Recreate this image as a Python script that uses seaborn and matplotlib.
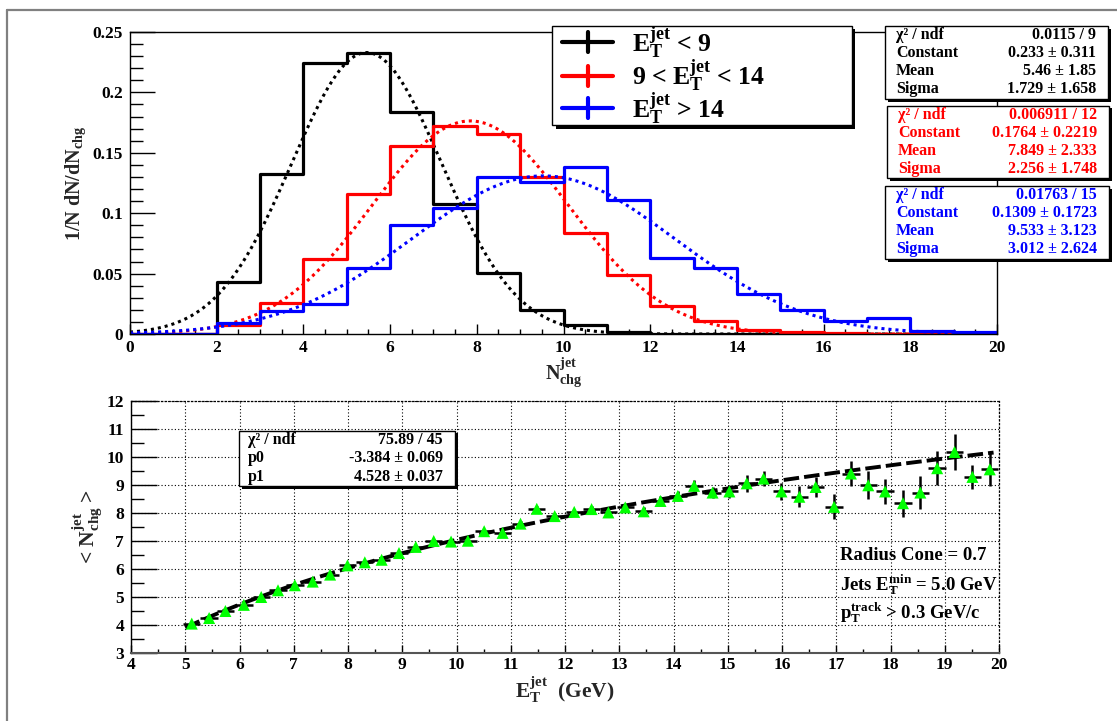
import numpy as np
import pandas as pd
import matplotlib
matplotlib.use("Agg")
import matplotlib.pyplot as plt
from matplotlib.lines import Line2D
from matplotlib.patches import Rectangle
from matplotlib.ticker import MultipleLocator, FuncFormatter
import seaborn as sns

# ---------------- data ----------------
# charged-multiplicity bins (N_chg^jet), unit width 0..20
nchg_edges = list(range(0, 21))
nchg_centers = [0.5, 1.5, 2.5, 3.5, 4.5, 5.5, 6.5, 7.5, 8.5, 9.5,
                10.5, 11.5, 12.5, 13.5, 14.5, 15.5, 16.5, 17.5, 18.5, 19.5]

# normalised multiplicity distributions, 1/N dN/dN_chg
frac_low = [0, 0, 0.0428, 0.1323, 0.2243, 0.2326, 0.1840, 0.1075, 0.0503, 0.0199,
            0.0075, 0.0013, 0.0003, 0, 0, 0, 0, 0, 0, 0]
frac_mid = [0, 0, 0.0075, 0.0254, 0.0619, 0.1160, 0.1560, 0.1720, 0.1655, 0.1296,
            0.0834, 0.0488, 0.0232, 0.0108, 0.0033, 0.0015, 0.0008, 0.0003, 0, 0]
frac_high = [0, 0, 0.0094, 0.0190, 0.0249, 0.0550, 0.0900, 0.1040, 0.1296, 0.1262,
             0.1380, 0.1107, 0.0632, 0.0549, 0.0328, 0.0199, 0.0108, 0.0130, 0.0025, 0.0014]

sample_labels = [r"$E_T^{jet}$ < 9", r"9 < $E_T^{jet}$ < 14", r"$E_T^{jet}$ > 14"]
sample_colors = ["black", "#ff0000", "#0000ff"]

# gaussian fit results (Constant, Mean, Sigma) with chi2/ndf
fit_const = [0.233, 0.1764, 0.1309]
fit_mean = [5.46, 7.849, 9.533]
fit_sigma = [1.729, 2.256, 3.012]
fit_rows = [
    [("χ² / ndf", "0.0115 / 9"), ("Constant", "0.233 ± 0.311"),
     ("Mean", "5.46 ± 1.85"), ("Sigma", "1.729 ± 1.658")],
    [("χ² / ndf", "0.006911 / 12"), ("Constant", "0.1764 ± 0.2219"),
     ("Mean", "7.849 ± 2.333"), ("Sigma", "2.256 ± 1.748")],
    [("χ² / ndf", "0.01763 / 15"), ("Constant", "0.1309 ± 0.1723"),
     ("Mean", "9.533 ± 3.123"), ("Sigma", "3.012 ± 2.624")],
]

# mean charged multiplicity versus jet E_T
et_jet = [5.12, 5.44, 5.74, 6.08, 6.40, 6.71, 7.02, 7.35, 7.67, 7.99,
          8.31, 8.62, 8.94, 9.25, 9.58, 9.90, 10.21, 10.51, 10.85, 11.18,
          11.48, 11.81, 12.17, 12.49, 12.80, 13.11, 13.45, 13.76, 14.08, 14.38,
          14.72, 15.03, 15.35, 15.66, 15.99, 16.32, 16.62, 16.96, 17.27, 17.59,
          17.90, 18.23, 18.55, 18.86, 19.18, 19.51, 19.83]
mean_nchg = [4.05, 4.25, 4.50, 4.72, 5.00, 5.24, 5.42, 5.55, 5.80, 6.13,
             6.24, 6.33, 6.57, 6.79, 7.00, 6.98, 7.01, 7.35, 7.29, 7.62,
             8.15, 7.89, 8.04, 8.14, 8.02, 8.20, 8.06, 8.43, 8.61, 8.97,
             8.73, 8.77, 9.06, 9.23, 8.77, 8.58, 8.93, 8.22, 9.41, 8.99,
             8.77, 8.35, 8.73, 9.60, 10.18, 9.29, 9.56]
mean_nchg_err = [0.03, 0.03, 0.03, 0.03, 0.04, 0.04, 0.04, 0.05, 0.05, 0.05,
                 0.06, 0.06, 0.06, 0.07, 0.07, 0.08, 0.08, 0.09, 0.09, 0.10,
                 0.11, 0.11, 0.12, 0.12, 0.13, 0.13, 0.14, 0.16, 0.18, 0.20,
                 0.20, 0.22, 0.30, 0.28, 0.30, 0.38, 0.36, 0.45, 0.44, 0.50,
                 0.44, 0.48, 0.58, 0.60, 0.65, 0.42, 0.60]
et_half_bin = 0.16

# log fit  <N> = p0 + p1 * ln(E_T)
p0, p1 = -3.384, 4.528
lin_rows = [("χ² / ndf", "75.89 / 45"), ("p0", "-3.384 ± 0.069"), ("p1", "4.528 ± 0.037")]

cut_notes = ["Radius Cone = 0.7", r"Jets $E_T^{min}$ = 5.0 GeV", r"$p_T^{track}$ > 0.3 GeV/c"]

# ---------------- style ----------------
sns.set_theme(style="ticks")
plt.rcParams.update({
    "font.family": ["Liberation Serif", "DejaVu Serif"],
    "font.weight": "bold",
    "axes.labelweight": "bold",
    "mathtext.default": "regular",
    "axes.facecolor": "white",
    "figure.facecolor": "white",
    "axes.edgecolor": "black",
    "text.color": "black",
    "xtick.color": "black",
    "ytick.color": "black",
    "xtick.direction": "in",
    "ytick.direction": "in",
})

W, H = 1117, 721
fig = plt.figure(figsize=(W / 100, H / 100), dpi=100)


def fx(px):
    return px / W


def fy(py):
    return 1 - py / H


# outer canvas frame
fig.add_artist(Line2D([fx(7), fx(W + 5)], [fy(9.5), fy(9.5)], color="#808080", lw=1.6))
fig.add_artist(Line2D([fx(7), fx(7)], [fy(9.5), fy(H + 5)], color="#808080", lw=1.6))

ax1 = fig.add_axes([fx(130), fy(334), fx(997) - fx(130), fy(32) - fy(334)])
ax2 = fig.add_axes([fx(131), fy(653), fx(999) - fx(131), fy(401) - fy(653)])

# ---------------- upper panel: multiplicity distributions ----------------
hist_df = pd.DataFrame({
    "nchg": nchg_centers * 3,
    "frac": frac_low + frac_mid + frac_high,
    "sample": sum([[lab] * len(nchg_centers) for lab in sample_labels], []),
})

xs = np.linspace(0, 20, 400)
for lab, col, c, m, s in zip(sample_labels, sample_colors, fit_const, fit_mean, fit_sigma):
    sub = hist_df[hist_df["sample"] == lab]
    sns.histplot(data=sub, x="nchg", weights="frac", bins=nchg_edges,
                 element="step", fill=False, color=col, linewidth=2.3, ax=ax1)
    sns.lineplot(x=xs, y=c * np.exp(-0.5 * ((xs - m) / s) ** 2), color=col,
                 linewidth=2.2, linestyle=(0, (1, 1.3)), estimator=None, sort=False, ax=ax1)

ax1.set_xlim(0, 20)
ax1.set_ylim(0, 0.25)
ax1.xaxis.set_major_locator(MultipleLocator(2))
ax1.xaxis.set_minor_locator(MultipleLocator(0.5))
ax1.yaxis.set_major_locator(MultipleLocator(0.05))
ax1.yaxis.set_minor_locator(MultipleLocator(0.01))
ax1.yaxis.set_major_formatter(FuncFormatter(lambda v, p: f"{v:g}"))
ax1.tick_params(axis="y", which="major", length=18, width=1, labelsize=12.5, pad=5)
ax1.tick_params(axis="y", which="minor", length=9, width=1)
ax1.tick_params(axis="x", which="major", length=7, width=1, labelsize=12.5, pad=4)
ax1.tick_params(axis="x", which="minor", length=3.5, width=1)
for sp in ax1.spines.values():
    sp.set_linewidth(1.0)
ax1.set_xlabel(r"$N_{chg}^{jet}$", fontsize=14.5)
ax1.set_ylabel(r"1/N dN/dN$_{chg}$", fontsize=14.5)
ax1.xaxis.set_label_coords(0.5, -0.126)
ax1.xaxis.label.set_va("center")
ax1.yaxis.set_label_coords(-0.062, 0.5)
ax1.yaxis.label.set_va("center")

# legend box: frame with drop shadow, line+error-bar glyph and label per sample
fig.add_artist(Rectangle((fx(555.5), fy(128.5)), fx(852) - fx(552), fy(26) - fy(125),
                         facecolor="black", edgecolor="black", lw=0, zorder=5))
fig.add_artist(Rectangle((fx(552), fy(125)), fx(852) - fx(552), fy(26) - fy(125),
                         facecolor="white", edgecolor="black", lw=1.0, zorder=6))
for lab, col, y_line, y_base in zip(sample_labels, sample_colors, [42, 75.5, 108], [53, 86, 118.5]):
    fig.add_artist(Line2D([fx(562), fx(613)], [fy(y_line), fy(y_line)], color=col, lw=3, zorder=7))
    fig.add_artist(Line2D([fx(587.5), fx(587.5)], [fy(y_line - 10), fy(y_line + 10)],
                          color=col, lw=3, zorder=7))
    fig.text(fx(632), fy(y_base), lab, fontsize=18.5, ha="left", va="baseline", zorder=7)


def stat_box(x0, y0, x1, y1, rows, color, row_y, fs=11.5, tx0=None, tx1=None):
    fig.add_artist(Rectangle((fx(x0 + 2.5), fy(y1 + 2.5)), fx(x1) - fx(x0), fy(y0) - fy(y1),
                             facecolor="black", edgecolor="black", lw=0, zorder=5))
    fig.add_artist(Rectangle((fx(x0), fy(y1)), fx(x1) - fx(x0), fy(y0) - fy(y1),
                             facecolor="white", edgecolor="black", lw=1.0, zorder=6))
    tx0 = x0 + 11 if tx0 is None else tx0
    tx1 = x1 - 12 if tx1 is None else tx1
    for (lab, val), yy in zip(rows, row_y):
        fig.text(fx(tx0), fy(yy), lab, color=color, fontsize=fs, ha="left", va="center", zorder=7)
        fig.text(fx(tx1), fy(yy), val, color=color, fontsize=fs, ha="right", va="center", zorder=7)


stat_box(885, 26, 1108, 99, fit_rows[0], sample_colors[0], [35, 53, 71, 89])
stat_box(887, 106, 1109, 178, fit_rows[1], sample_colors[1], [115, 133, 151, 169])
stat_box(885, 186, 1109, 259, fit_rows[2], sample_colors[2], [195, 213, 231, 249])

# ---------------- lower panel: <N_chg> vs E_T ----------------
prof_df = pd.DataFrame({"et": et_jet, "nchg": mean_nchg, "err": mean_nchg_err})

ax2.errorbar(prof_df["et"], prof_df["nchg"], yerr=prof_df["err"], xerr=et_half_bin,
             fmt="none", ecolor="black", elinewidth=1.8, capsize=0, zorder=3)
fx_line = np.linspace(5.0, 19.9, 300)
sns.lineplot(x=fx_line, y=p0 + p1 * np.log(fx_line), color="black", linewidth=2.8,
             linestyle=(0, (4, 1.3)), estimator=None, sort=False, ax=ax2, zorder=4)
sns.scatterplot(data=prof_df, x="et", y="nchg", marker="^", color="#00ff00",
                s=75, edgecolor="none", linewidth=0, ax=ax2, zorder=5)

ax2.set_xlim(4, 20)
ax2.set_ylim(3, 12)
ax2.xaxis.set_major_locator(MultipleLocator(1))
ax2.xaxis.set_minor_locator(MultipleLocator(0.5))
ax2.yaxis.set_major_locator(MultipleLocator(1))
ax2.yaxis.set_minor_locator(MultipleLocator(0.5))
ax2.grid(True, which="major", color="black", linewidth=0.8, linestyle=(0, (1, 2)))
ax2.set_axisbelow(True)
ax2.tick_params(axis="y", which="major", length=19, width=1, labelsize=12.5, pad=5)
ax2.tick_params(axis="y", which="minor", length=9, width=1)
ax2.tick_params(axis="x", which="major", length=6, width=1, labelsize=12.5, pad=3)
ax2.tick_params(axis="x", which="minor", length=3, width=1)
ax2.spines["left"].set_linewidth(1.0)
ax2.spines["bottom"].set_linewidth(1.5)
ax2.spines["bottom"].set_color("#555555")
for side in ("top", "right"):
    ax2.spines[side].set_linestyle((0, (1, 2)))
    ax2.spines[side].set_linewidth(0.9)
ax2.set_xlabel(r"$E_T^{jet}$  (GeV)", fontsize=15.5)
ax2.set_ylabel(r"< $N_{chg}^{jet}$ >", fontsize=15.5)
ax2.xaxis.set_label_coords(0.5, -0.147)
ax2.xaxis.label.set_va("center")
ax2.yaxis.set_label_coords(-0.05, 0.5)
ax2.yaxis.label.set_va("center")

stat_box(239, 431, 455, 486, lin_rows, "black", [440, 458, 477], fs=11.5, tx0=248, tx1=443)

for txt, yv in zip(cut_notes, [6.5, 5.43, 4.43]):
    ax2.text(17.07, yv, txt, fontsize=13.5, ha="left", va="center", zorder=6)

fig.savefig("out.png", dpi=100, facecolor="white")
